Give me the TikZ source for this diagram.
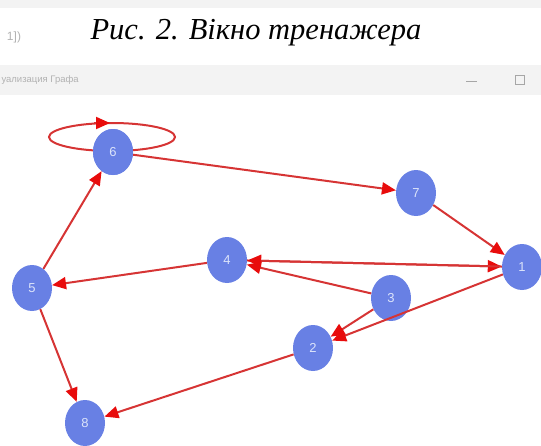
\documentclass[tikz,border=0pt]{standalone}
\usepackage{fontspec}
\setmainfont{Liberation Serif}
\newfontfamily\uifont{Liberation Sans}
\usetikzlibrary{arrows.meta}
\usetikzlibrary{shapes.geometric}
\usetikzlibrary{calc}

\definecolor{vertexblue}{RGB}{104,128,228}
\definecolor{labelwhite}{RGB}{220,228,250}
\definecolor{edgered}{RGB}{214,52,52}
\definecolor{tipred}{RGB}{232,12,12}
\definecolor{barfill}{RGB}{243,243,243}

\begin{document}
\begin{tikzpicture}[x=1pt,y=-1pt]
            \tikzset{vertex/.style={ellipse, fill=vertexblue, draw=none,
                minimum width=40, minimum height=46, inner sep=0pt,
                text=labelwhite, font=\uifont\fontsize{13}{13}\selectfont}}
            \tikzset{edge/.style={draw=edgered, line width=2pt,
                -{Triangle[length=14pt,width=12pt,color=tipred]}}}
            \useasboundingbox (0,0) rectangle (541,445);
            % window frame and caption
            \fill[barfill] (0,0) rectangle (541,8);
            \fill[barfill] (0,65) rectangle (541,95);
            \node[text=black!30, font=\uifont\fontsize{12}{12}\selectfont] (code) at (14,37) {1])};
            \node[font=\itshape\fontsize{30.5}{30.5}\selectfont] (caption) at (256,33) {Рис. 2. Вікно тренажера};
            \node[anchor=west, text=black!30, font=\uifont\fontsize{9.5}{9.5}\selectfont] (wtitle) at (-2,80) {уализация Графа};
            \coordinate (wminl) at (466,81);
            \coordinate (wminr) at (477,81);
            \draw[black!35, line width=0.8pt] (wminl) -- (wminr);
            \node[draw=black!35, line width=0.8pt, minimum size=9pt, inner sep=0pt] (wmax) at (520,80) {};
            % vertices
            \node[vertex] (n6) at (113,152) {6};
            \node[vertex] (n7) at (416,193) {7};
            \node[vertex] (n1) at (522,267) {1};
            \node[vertex] (n4) at (227,260) {4};
            \node[vertex] (n5) at (32,288) {5};
            \node[vertex] (n3) at (391,298) {3};
            \node[vertex] (n2) at (313,348) {2};
            \node[vertex] (n8) at (85,423) {8};
            % loop on 6
            \coordinate (loopc) at ($(n6)+(-1,-15)$);
            \draw[draw=edgered, line width=2pt] (loopc) ellipse [x radius=63, y radius=14];
            \draw[edge] ($(loopc)+(-18,-14)$) -- ($(loopc)+(-2,-14)$);
            % arcs
            \draw[edge] (n6) -- (n7);
            \draw[edge] (n7) -- (n1);
            \draw[edge] (n4) -- (n1);
            \draw[edge] (n1) -- (n4);
            \draw[edge] (n3) -- (n4);
            \draw[edge] (n4) -- (n5);
            \draw[edge] (n5) -- (n6);
            \draw[edge] (n5) -- (n8);
            \draw[edge] (n1) -- (n2);
            \draw[edge] (n3) -- (n2);
            \draw[edge] (n2) -- (n8);
            % redraw vertex 6 over the loop
            \foreach \v/\t in {n6/6} {\node[vertex] at (\v) {\t};}
        \end{tikzpicture}
\end{document}
